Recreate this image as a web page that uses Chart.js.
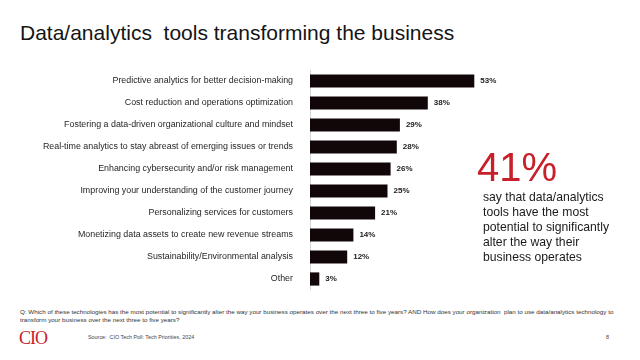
<!DOCTYPE html>
<html>
<head>
<meta charset="utf-8">
<script src="https://cdn.jsdelivr.net/npm/chart.js@4.4.1/dist/chart.umd.min.js"></script>
<style>
  body { margin: 0; background: #fff; font-family: "Liberation Sans", Arial, sans-serif; }
  #page { position: relative; width: 640px; height: 360px; overflow: hidden; background: #fff; }
  #title { position: absolute; left: 20px; top: 21px; font-size: 21px; color: #141414; white-space: pre; }
  #chartBox { position: absolute; left: 0; top: 70px; width: 620px; height: 220px; }
  #big { position: absolute; left: 477px; top: 144px; font-size: 40px; color: #c8202a; line-height: 46px; }
  #note { position: absolute; left: 483px; top: 190px; font-size: 12.2px; line-height: 15px; color: #1a1a1a; }
  #question { position: absolute; left: 20px; top: 308px; width: 610px; font-size: 6.25px; line-height: 7.6px; color: #333; white-space: nowrap; }
  #logo { position: absolute; left: 19px; top: 328px; font-family: "Liberation Serif", serif; font-size: 18px; color: #c8202a; letter-spacing: -1px; }
  #source { position: absolute; left: 88px; top: 334px; font-size: 5.4px; color: #444; }
  #pageNo { position: absolute; left: 606px; top: 334px; font-size: 5.5px; color: #444; }
</style>
</head>
<body>
<div id="page">
  <div id="title">Data/analytics  tools transforming the business</div>
  <div id="chartBox"><canvas id="chart"></canvas></div>
  <div id="big">41%</div>
  <div id="note">say that data/analytics<br>tools have the most<br>potential to significantly<br>alter the way their<br>business operates</div>
  <div id="question">Q: Which of these technologies has the most potential to significantly alter the way your business operates over the next three to five years? AND How does your organization&nbsp; plan to use data/analytics technology to<br>transform your business over the next three to five years?</div>
  <div id="logo">CIO</div>
  <div id="source">Source:&nbsp; CIO Tech Poll: Tech Priorities, 2024</div>
  <div id="pageNo">8</div>
</div>
<script>
const categories = [
  "Predictive analytics for better decision-making",
  "Cost reduction and operations optimization",
  "Fostering a data-driven organizational culture and mindset",
  "Real-time analytics to stay abreast of emerging issues or trends",
  "Enhancing cybersecurity and/or risk management",
  "Improving your understanding of the customer journey",
  "Personalizing services for customers",
  "Monetizing data assets to create new revenue streams",
  "Sustainability/Environmental analysis",
  "Other"
];
const percentValues = [53, 38, 29, 28, 26, 25, 21, 14, 12, 3];

// value labels at the end of each bar
const valueLabels = {
  id: "valueLabels",
  afterDatasetsDraw(chart) {
    const ctx = chart.ctx;
    const meta = chart.getDatasetMeta(0);
    ctx.save();
    ctx.font = "bold 8px 'Liberation Sans', Arial, sans-serif";
    ctx.fillStyle = "#222";
    ctx.textBaseline = "middle";
    meta.data.forEach((bar, i) => {
      ctx.fillText(percentValues[i] + "%", bar.x + 6, bar.y);
    });
    ctx.restore();
  }
};

new Chart(document.getElementById("chart"), {
  type: "bar",
  data: {
    labels: categories,
    datasets: [{
      data: percentValues,
      backgroundColor: "#110708",
      categoryPercentage: 1,
      barPercentage: 0.6
    }]
  },
  options: {
    indexAxis: "y",
    responsive: true,
    maintainAspectRatio: false,
    animation: false,
    layout: { padding: 0, autoPadding: false },
    plugins: {
      legend: { display: false },
      tooltip: { enabled: false }
    },
    scales: {
      x: { display: false, min: 0, max: 100 },
      y: {
        afterFit(scale) {
          scale.width = 310;
          scale.paddingTop = 0;
          scale.paddingBottom = 0;
        },
        grid: { display: false },
        border: { display: true, color: "#d4d4d4", width: 1 },
        ticks: {
          color: "#262626",
          padding: 9,
          font: { family: "'Liberation Sans', Arial, sans-serif", size: 8.9 }
        }
      }
    }
  },
  plugins: [valueLabels]
});
</script>
</body>
</html>
